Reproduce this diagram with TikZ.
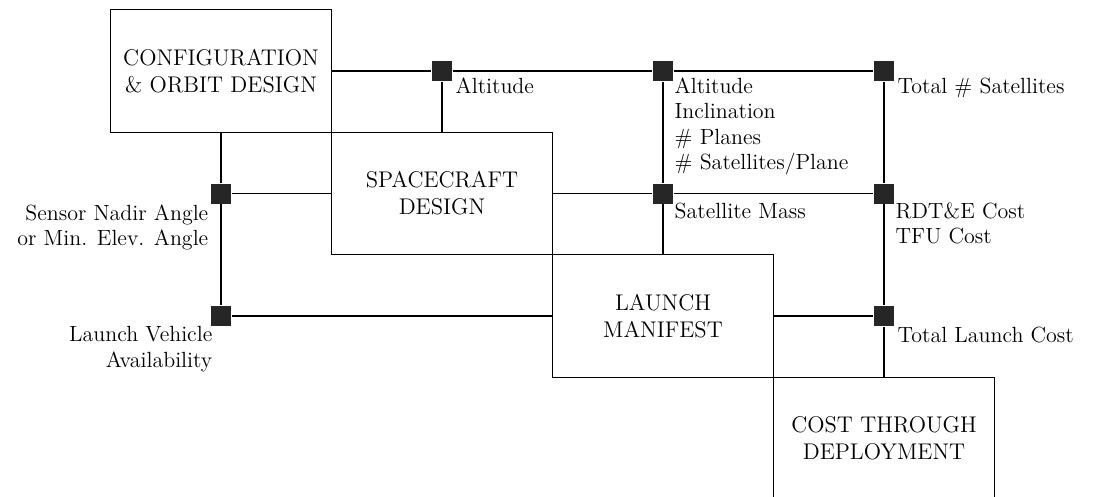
\documentclass[tikz,border=0pt]{standalone}
\usepackage{tikz}

\tikzset{
  blk/.style={draw, minimum width=4.42cm, minimum height=2.45cm, inner sep=0, align=center, font=\fontsize{12.9}{15.3}\selectfont},
  sq/.style={fill=black!85, minimum size=0.4cm, inner sep=0},
  lbl/.style={inner sep=0, font=\fontsize{12.5}{14.5}\selectfont},
}

\begin{document}
\begin{tikzpicture}[line width=0.8pt]
\clip (0,0) rectangle (21.94,9.92);
% the four design boxes
\node[blk] (conf) at (4.42,8.5) {CONFIGURATION\\\& ORBIT DESIGN};
\node[blk] (craft) at (8.84,6.05) {SPACECRAFT\\DESIGN};
\node[blk] (manif) at (13.26,3.6) {LAUNCH\\MANIFEST};
\node[blk] (cost) at (17.68,1.15) {COST THROUGH\\DEPLOYMENT};

% junctions
\node[sq] (alt) at (8.84,8.5) {};
\node[sq] (orbit) at (13.26,8.5) {};
\node[sq] (nsat) at (17.68,8.5) {};
\node[sq] (nadir) at (4.42,6.05) {};
\node[sq] (mass) at (13.26,6.05) {};
\node[sq] (rdte) at (17.68,6.05) {};
\node[sq] (lvav) at (4.42,3.6) {};
\node[sq] (lcost) at (17.68,3.6) {};

\draw (conf) -- (alt) -- (orbit) -- (nsat);
\draw (alt) -- (craft);
\draw (orbit) -- (mass) -- (manif);
\draw (nsat) -- (rdte) -- (lcost) -- (cost);
\draw (conf) -- (nadir) -- (lvav);
\draw (nadir) -- (craft);
\draw (craft) -- (mass) -- (rdte);
\draw (lvav) -- (manif);
\draw (manif) -- (lcost);

% labels
\node[lbl, anchor=north west] (altlbl) at (9.1,8.38) {Altitude};
\node[lbl, anchor=north west, align=left] (orblbl) at (13.48,8.38) {Altitude\\Inclination\\\# Planes\\\# Satellites/Plane};
\node[lbl, anchor=north west] (nsatlbl) at (17.94,8.38) {Total \# Satellites};
\node[lbl, anchor=north west] (masslbl) at (13.48,5.88) {Satellite Mass};
\node[lbl, anchor=north west, align=left] (rdtelbl) at (17.9,5.88) {RDT\&E Cost\\TFU Cost};
\node[lbl, anchor=north west] (lcostlbl) at (17.94,3.4) {Total Launch Cost};
\node[lbl, anchor=north east, align=right] (nadirlbl) at (4.18,5.84) {Sensor Nadir Angle\\or Min. Elev. Angle};
\node[lbl, anchor=north east, align=right] (lvavlbl) at (4.26,3.4) {Launch Vehicle\\Availability};
\end{tikzpicture}
\end{document}
